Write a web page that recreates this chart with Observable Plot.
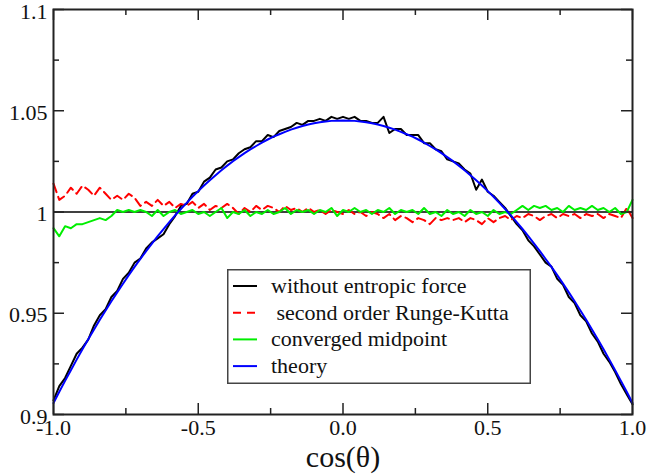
<!DOCTYPE html>
<html>
<head>
<meta charset="utf-8">
<script src="https://cdn.jsdelivr.net/npm/d3@7"></script>
<script src="https://cdn.jsdelivr.net/npm/@observablehq/plot@0.6"></script>
<style>
  html, body { margin: 0; padding: 0; background: #fff; }
  #wrap { position: relative; width: 647px; height: 476px; }
  #legend { position: absolute; left: 227px; top: 269px; }
  #wrap svg text { font-family: "Liberation Serif", "Times New Roman", Times, "Tinos", "Nimbus Roman", "DejaVu Serif", "Noto Serif", serif !important; }
</style>
</head>
<body>
<div id="wrap"></div>
<script>
// x grid of the samples (step 0.02 from -1 to 1)
const xs = d3.range(101).map(i => +(-1 + i * 0.02).toFixed(2));

// theory curve
const theory = [0.9057,0.9112,0.9166,0.9219,0.9271,0.9322,0.9372,0.9420,0.9468,0.9514,
0.9559,0.9603,0.9646,0.9688,0.9729,0.9768,0.9807,0.9844,0.9881,0.9916,
0.9950,0.9983,1.0015,1.0045,1.0075,1.0103,1.0131,1.0157,1.0182,1.0206,
1.0229,1.0251,1.0271,1.0291,1.0309,1.0326,1.0343,1.0358,1.0372,1.0384,
1.0396,1.0407,1.0416,1.0425,1.0432,1.0438,1.0443,1.0447,1.0450,1.0451,
1.0452,
1.0451,1.0450,1.0447,1.0443,1.0438,1.0432,1.0425,1.0416,1.0407,1.0396,
1.0384,1.0372,1.0358,1.0343,1.0326,1.0309,1.0291,1.0271,1.0251,1.0229,
1.0206,1.0182,1.0157,1.0131,1.0103,1.0075,1.0045,1.0015,0.9983,0.9950,
0.9916,0.9881,0.9844,0.9807,0.9768,0.9729,0.9688,0.9646,0.9603,0.9559,
0.9514,0.9468,0.9420,0.9372,0.9322,0.9271,0.9219,0.9166,0.9112,0.9057];

// without entropic force (black)
const withoutEntropic = [0.907,0.914,0.918,0.924,0.930,0.933,0.937,0.944,0.949,0.952,
0.958,0.961,0.967,0.970,0.975,0.977,0.982,0.985,0.987,0.989,
0.994,0.998,1.003,1.004,1.009,1.010,1.015,1.017,1.021,1.022,
1.025,1.026,1.029,1.031,1.032,1.035,1.035,1.038,1.037,1.040,
1.041,1.042,1.044,1.043,1.045,1.045,1.046,1.045,1.047,1.046,
1.047,
1.046,1.047,1.045,1.045,1.044,1.044,1.047,1.039,1.041,1.041,
1.038,1.038,1.038,1.034,1.034,1.031,1.030,1.026,1.025,1.024,
1.021,1.019,1.011,1.016,1.010,1.008,1.005,1.002,0.998,0.994,
0.991,0.986,0.983,0.979,0.975,0.973,0.967,0.964,0.958,0.955,
0.949,0.946,0.940,0.936,0.930,0.926,0.921,0.915,0.910,0.905];

// second order Runge-Kutta (red dashed)
const rungeKutta = [1.014,1.006,1.008,1.012,1.009,1.013,1.011,1.008,1.012,1.009,
1.006,1.008,1.006,1.009,1.007,1.003,1.005,1.003,1.006,1.003,
1.005,1.002,1.004,1.003,1.005,1.002,1.004,1.001,1.003,1.002,
1.004,1.002,0.999,1.002,1.000,1.003,1.001,1.003,1.002,1.000,
1.003,1.001,1.002,1.000,1.002,1.000,1.001,0.999,1.001,1.000,
0.999,
1.001,0.999,1.000,0.998,1.000,0.999,0.997,0.999,0.996,0.998,
0.997,0.995,0.997,0.996,0.994,0.997,0.996,0.997,0.996,0.997,
0.995,0.997,0.996,0.994,0.997,0.995,0.997,0.998,0.996,0.998,
0.997,0.999,0.998,0.996,0.998,0.999,0.997,0.999,0.998,0.999,
0.997,0.999,0.998,0.999,0.997,0.999,0.998,0.997,1.002,0.997];

// converged midpoint (green)
const midpoint = [0.992,0.988,0.993,0.992,0.994,0.994,0.995,0.996,0.997,0.996,
0.998,1.001,1.000,1.001,1.000,1.001,1.000,0.998,1.001,0.998,
1.000,1.001,0.999,1.000,1.001,0.999,1.000,0.998,1.000,1.002,
0.997,1.000,0.999,1.001,0.998,1.000,0.999,1.001,0.999,1.000,
1.002,0.999,1.001,1.000,1.001,0.999,1.001,1.000,1.002,0.998,
1.001,
1.000,1.002,1.000,1.001,0.999,1.001,1.000,1.002,0.999,1.001,
1.000,1.001,0.999,1.002,0.999,1.000,0.998,1.001,0.999,1.000,
0.998,1.001,0.999,1.000,0.998,1.001,0.999,1.000,0.999,1.001,
1.003,1.001,1.003,1.002,1.003,1.001,1.002,1.000,1.003,1.001,
1.002,1.001,1.003,1.001,1.002,1.000,1.002,0.999,1.000,1.006];

const xMajor = [-1, -0.5, 0, 0.5, 1];
const xMinor = [-0.75, -0.25, 0.25, 0.75];
const xTickLabels = ["-1.0", "-0.5", "0.0", "0.5", "1.0"];
const yMajor = [0.9, 0.95, 1, 1.05, 1.1];
const yMinor = [0.925, 0.975, 1.025, 1.075];
const yTickLabels = ["0.9", "0.95", "1", "1.05", "1.1"];
const refLine = [1];
const xTitle = "cos(θ)";

const series = [
  {name: "without entropic force", color: "#000000", dash: null},
  {name: " second order Runge-Kutta", color: "#ff0000", dash: "8,6"},
  {name: "converged midpoint", color: "#00ee00", dash: null},
  {name: "theory", color: "#0000ff", dash: null}
];

const W = 647, H = 476, mL = 53, mR = 15, mT = 9, mB = 62;
const innerW = W - mL - mR, innerH = H - mT - mB;
const serif = '"Liberation Serif", "Times New Roman", Times, "DejaVu Serif", serif';

const toRows = (arr) => arr.map((v, i) => ({x: xs[i], y: v}));

const plot = Plot.plot({
  width: W, height: H,
  marginLeft: mL, marginRight: mR, marginTop: mT, marginBottom: mB,
  style: {fontFamily: serif, background: "#fff", overflow: "visible"},
  x: {domain: [-1, 1]},
  y: {domain: [0.9, 1.1]},
  marks: [
    Plot.ruleY(refLine, {stroke: "#000", strokeWidth: 1.6}),
    Plot.line(toRows(withoutEntropic), {x: "x", y: "y", stroke: "#000", strokeWidth: 2}),
    Plot.line(toRows(rungeKutta), {x: "x", y: "y", stroke: "#ff0000", strokeWidth: 2, strokeDasharray: "9,5"}),
    Plot.line(toRows(midpoint), {x: "x", y: "y", stroke: "#00ee00", strokeWidth: 2}),
    Plot.line(toRows(theory), {x: "x", y: "y", stroke: "#0000ff", strokeWidth: 2}),
    // inward ticks: left / right
    Plot.tickY(yMajor, {y: d => d, insetRight: innerW - 11, stroke: "#222", strokeWidth: 1.5}),
    Plot.tickY(yMinor, {y: d => d, insetRight: innerW - 6, stroke: "#222", strokeWidth: 1.5}),
    Plot.tickY(yMajor, {y: d => d, insetLeft: innerW - 11, stroke: "#222", strokeWidth: 1.5}),
    Plot.tickY(yMinor, {y: d => d, insetLeft: innerW - 6, stroke: "#222", strokeWidth: 1.5}),
    // inward ticks: bottom / top
    Plot.tickX(xMajor, {x: d => d, insetTop: innerH - 11, stroke: "#222", strokeWidth: 1.5}),
    Plot.tickX(xMinor, {x: d => d, insetTop: innerH - 6, stroke: "#222", strokeWidth: 1.5}),
    Plot.tickX(xMajor, {x: d => d, insetBottom: innerH - 11, stroke: "#222", strokeWidth: 1.5}),
    Plot.tickX(xMinor, {x: d => d, insetBottom: innerH - 6, stroke: "#222", strokeWidth: 1.5}),
    Plot.frame({stroke: "#222", strokeWidth: 2}),
    Plot.axisY({ticks: yMajor, tickSize: 0, tickPadding: 6, tickFormat: (d, i) => yTickLabels[i],
      fontSize: 22, fontFamily: serif, fill: "#111", dy: 2, label: null}),
    Plot.axisX({ticks: xMajor, tickSize: 0, tickPadding: 5, tickFormat: (d, i) => xTickLabels[i],
      fontSize: 22, fontFamily: serif, fill: "#111", label: null}),
    Plot.text([xTitle], {frameAnchor: "bottom", lineAnchor: "middle", dy: 43, fontSize: 30, fontFamily: serif, fill: "#111"})
  ]
});

const wrap = document.getElementById("wrap");
wrap.appendChild(plot);

// legend box inside the plot area
const lw = 304, lh = 115;
const legend = d3.select(wrap).append("svg")
  .attr("id", "legend").attr("width", lw).attr("height", lh);
legend.append("rect").attr("x", 0.75).attr("y", 0.75).attr("width", lw - 1.5).attr("height", lh - 1.5)
  .attr("fill", "#fff").attr("stroke", "#444").attr("stroke-width", 1.5);
const row = legend.selectAll("g").data(series).join("g")
  .attr("transform", (d, i) => `translate(0, ${17 + i * 26.7})`);
row.append("line").attr("x1", 6).attr("x2", 30).attr("y1", 0).attr("y2", 0)
  .attr("stroke", d => d.color).attr("stroke-width", 2)
  .attr("stroke-dasharray", d => d.dash);
row.append("text").attr("x", 44).attr("y", 7).attr("font-size", 22)
  .attr("font-family", serif)
  .attr("fill", "#111").style("white-space", "pre")
  .text(d => d.name);
</script>
</body>
</html>
